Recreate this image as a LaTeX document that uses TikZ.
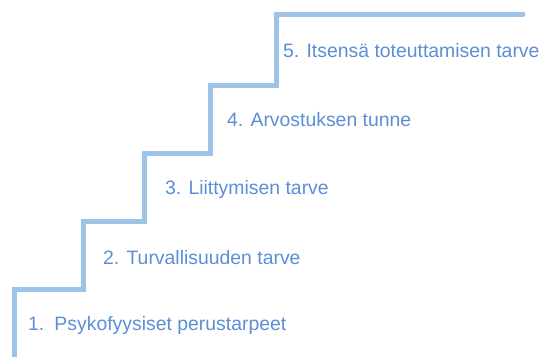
\documentclass[tikz,border=0pt]{standalone}
\usepackage{fontspec}
\setmainfont{Liberation Sans}
\definecolor{stairblue}{HTML}{9DC3E6}
\definecolor{labelblue}{HTML}{5B8ED6}
\begin{document}
\begin{tikzpicture}[x=1pt,y=-1pt,
  stair/.style={draw=stairblue,line width=5pt,line join=miter},
  level/.style={anchor=base west,inner sep=0pt,text=labelblue,font=\fontsize{19.4}{22}\selectfont}]
\useasboundingbox (0,0) rectangle (540,356);
% the staircase, rising from bottom left to top right
\draw[stair] (14.5,362) -- (14.5,289) -- (83,289) -- (83,221) -- (144,221)
  -- (144,153.5) -- (210,153.5) -- (210,85.5) -- (276,85.5) -- (276,14);
\draw[stair,line cap=round] (276,14) -- (523,14);
% one label per step
\node[level] (n1) at (28,330) {1.\hspace{0.52em}Psykofyysiset perustarpeet};
\node[level] (n2) at (103,264) {2. Turvallisuuden tarve};
\node[level] (n3) at (165,194) {3. Liittymisen tarve};
\node[level] (n4) at (227,126) {4. Arvostuksen tunne};
\node[level] (n5) at (283,57.3) {5. Itsensä toteuttamisen tarve};
\end{tikzpicture}
\end{document}
